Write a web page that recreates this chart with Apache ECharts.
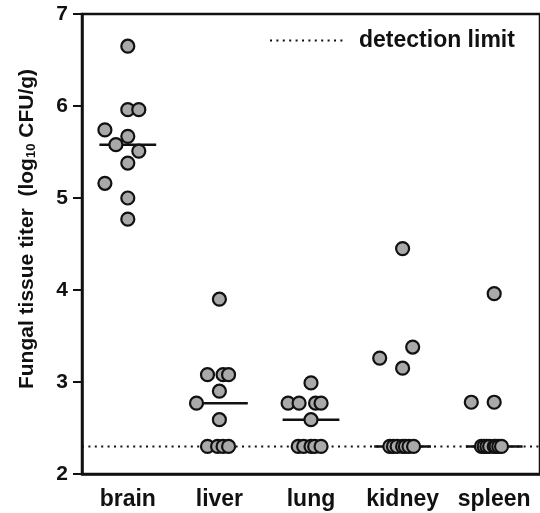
<!DOCTYPE html>
<html>
<head>
<meta charset="utf-8">
<script src="https://cdn.jsdelivr.net/npm/echarts@6/dist/echarts.min.js"></script>
<style>html,body{margin:0;padding:0;background:#fff}#c{width:540px;height:513px}</style>
</head>
<body>
<div id="c"></div>
<script>
// ---- data ----
const categories = ['brain', 'liver', 'lung', 'kidney', 'spleen'];
const brainY  = [6.65, 5.96, 5.96, 5.74, 5.67, 5.58, 5.51, 5.38, 5.16, 5.00, 4.77];
const brainDx = [0, 0, 0.12, -0.25, 0, -0.13, 0.12, 0, -0.25, 0, 0];
const liverY  = [3.90, 3.08, 3.08, 3.08, 2.90, 2.77, 2.59, 2.3, 2.3, 2.3, 2.3];
const liverDx = [0, -0.13, 0.04, 0.1, 0, -0.25, 0, -0.13, -0.02, 0.04, 0.1];
const lungY   = [2.99, 2.77, 2.77, 2.77, 2.77, 2.59, 2.3, 2.3, 2.3, 2.3, 2.3];
const lungDx  = [0, -0.25, -0.13, 0.05, 0.11, 0, -0.14, -0.08, 0, 0.04, 0.11];
const kidneyY = [4.45, 3.38, 3.26, 3.15, 2.3, 2.3, 2.3, 2.3, 2.3, 2.3, 2.3];
const kidneyDx= [0, 0.11, -0.25, 0, -0.14, -0.1, -0.06, 0, 0.03, 0.07, 0.12];
const spleenY = [3.96, 2.78, 2.78, 2.3, 2.3, 2.3, 2.3, 2.3, 2.3, 2.3, 2.3];
const spleenDx= [0, -0.25, 0, -0.14, -0.11, -0.08, -0.05, 0, 0.02, 0.05, 0.08];
const medians = [5.58, 2.77, 2.59, 2.3, 2.3];
const detectionLimit = 2.3;
const yTicks = [2, 3, 4, 5, 6, 7];

const groupsY = [brainY, liverY, lungY, kidneyY, spleenY];
const groupsDx = [brainDx, liverDx, lungDx, kidneyDx, spleenDx];

const FONT = "'Liberation Sans', Arial, Helvetica, sans-serif";
const INK = '#111';

const points = [];
groupsY.forEach((ys, i) => ys.forEach((y, j) => points.push([i + groupsDx[i][j], y])));
const medianData = medians.map((m, i) => [i, m]);

const chart = echarts.init(document.getElementById('c'));
chart.setOption({
  animation: false,
  grid: { left: 82, top: 14, bottom: 39, right: -6, show: true, borderColor: INK, borderWidth: 2.5, backgroundColor: 'transparent' },
  legend: {
    left: 264, top: 24, itemWidth: 74, itemHeight: 14, itemGap: 10,
    data: [{ name: 'detection limit' }],
    itemStyle: { opacity: 0 },
    textStyle: { fontFamily: FONT, fontWeight: 'bold', fontSize: 23, color: INK, padding: [0, 0, 0, 10] }
  },
  xAxis: [{
    type: 'category', data: categories, position: 'bottom', boundaryGap: true,
    axisLine: { lineStyle: { color: INK, width: 2.5 } },
    axisTick: { alignWithLabel: true, length: 8, lineStyle: { color: INK, width: 2 } },
    axisLabel: { interval: 0, margin: 14, fontFamily: FONT, fontWeight: 'bold', fontSize: 23, color: INK },
    splitLine: { show: false }
  }, {
    type: 'value', min: -0.5, max: 4.5, show: false
  }],
  yAxis: {
    type: 'value', min: 2, max: 7, interval: 1,
    axisLine: { show: true, onZero: false, lineStyle: { color: INK, width: 2.5 } },
    axisTick: { show: true, length: 9, lineStyle: { color: INK, width: 2 } },
    axisLabel: { margin: 14, fontFamily: FONT, fontWeight: 'bold', fontSize: 21, color: INK,
      formatter: v => yTicks.includes(v) ? String(v) : '' },
    splitLine: { show: false }
  },
  graphic: [{
    type: 'text', x: 27, y: 229, rotation: Math.PI / 2,
    style: {
      text: 'Fungal tissue titer  (log{s|10} CFU/g)',
      align: 'center', verticalAlign: 'middle',
      font: 'bold 21px ' + FONT, fill: INK,
      rich: { s: { fontSize: 13, fontWeight: 'bold', fontFamily: FONT, fill: INK, verticalAlign: 'bottom', padding: [7, 0, 0, 0] } }
    }
  }],
  series: [{
    name: 'detection limit', type: 'line', xAxisIndex: 1,
    data: [[-0.5, detectionLimit], [4.5, detectionLimit]],
    symbol: 'none', z: 1,
    lineStyle: { color: INK, width: 2, type: [2, 4.4] },
    itemStyle: { color: INK }
  }, {
    name: 'median', type: 'custom', xAxisIndex: 1, z: 2,
    data: medianData,
    renderItem: (params, api) => {
      const a = api.coord([api.value(0) - 0.31, api.value(1)]);
      const b = api.coord([api.value(0) + 0.31, api.value(1)]);
      return { type: 'line', shape: { x1: a[0], y1: a[1], x2: b[0], y2: b[1] }, style: { stroke: INK, lineWidth: 2.5 } };
    }
  }, {
    name: 'titer', type: 'scatter', xAxisIndex: 1, z: 3,
    data: points, symbol: 'circle', symbolSize: 13,
    itemStyle: { color: '#a9a9a9', borderColor: INK, borderWidth: 2.2, opacity: 1 }
  }]
});
</script>
</body>
</html>
